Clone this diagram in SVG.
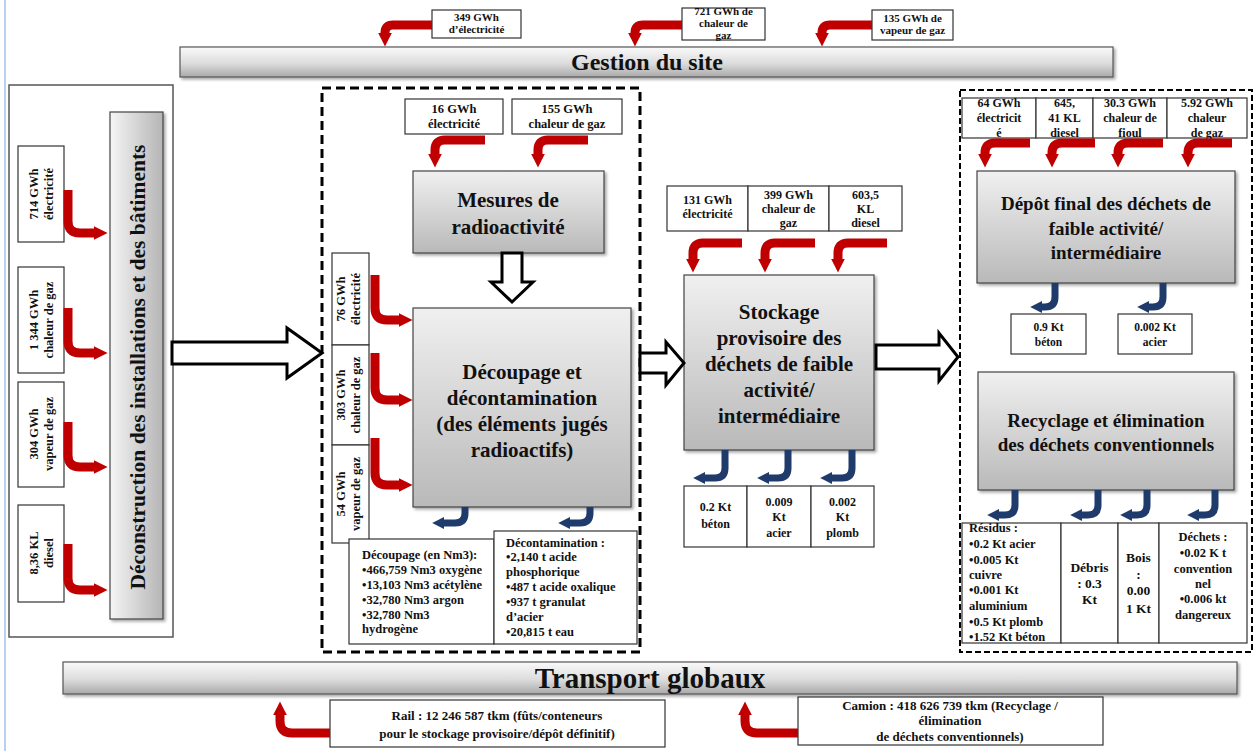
<svg xmlns="http://www.w3.org/2000/svg" width="1256" height="751" viewBox="0 0 1256 751">
<defs>
<linearGradient id="gBar" x1="0" y1="0" x2="0" y2="1"><stop offset="0" stop-color="#fafafa"/><stop offset="0.55" stop-color="#dcdcdc"/><stop offset="1" stop-color="#a9a9a9"/></linearGradient>
<linearGradient id="gNode" x1="0" y1="0" x2="0" y2="1"><stop offset="0" stop-color="#f0f0f0"/><stop offset="1" stop-color="#b9b9b9"/></linearGradient>
<linearGradient id="gVert" x1="0" y1="0" x2="1" y2="0"><stop offset="0" stop-color="#f5f5f5"/><stop offset="1" stop-color="#b5b5b5"/></linearGradient>
<filter id="sh" x="-5%" y="-5%" width="115%" height="120%"><feDropShadow dx="2" dy="2" stdDeviation="1.5" flood-color="#000" flood-opacity="0.35"/></filter>
<marker id="ahr" viewBox="0 0 10 10" refX="1" refY="5" markerWidth="14" markerHeight="19" markerUnits="userSpaceOnUse" orient="auto"><path d="M0,0L10,5L0,10z" fill="#c00000"/></marker>
<marker id="ahb" viewBox="0 0 10 10" refX="1" refY="5" markerWidth="12" markerHeight="16" markerUnits="userSpaceOnUse" orient="auto"><path d="M0,0L10,5L0,10z" fill="#1f3b6b"/></marker>
</defs>
<style>
text{font-family:"Liberation Serif","Times New Roman",serif;font-weight:bold;fill:#111;}
.bar{fill:url(#gBar);stroke:#555;stroke-width:1.2;filter:url(#sh);}
.node{fill:url(#gNode);stroke:#444;stroke-width:1.2;filter:url(#sh);}
.box{fill:#fff;stroke:#333;stroke-width:1.2;}
.ttl{font-size:21px;text-anchor:middle;}
.lbl{font-size:12px;text-anchor:middle;}
.sm{font-size:11px;text-anchor:middle;}
.rot{font-size:12.5px;text-anchor:middle;}
.lst{font-size:12.5px;}
.red{fill:none;stroke:#c00000;stroke-width:9;marker-end:url(#ahr);}
.blue{fill:none;stroke:#1f3b6b;stroke-width:7;marker-end:url(#ahb);}
.hollow{fill:#fff;stroke:#000;stroke-width:3;stroke-linejoin:miter;}
</style>
<rect width="1256" height="751" fill="#fff"/>
<line x1="5" y1="0" x2="5" y2="751" stroke="#9dc3e6" stroke-width="1.5"/>

<g id="gestion">
<rect class="bar" x="180" y="47" width="933" height="30"/>
<text x="647" y="70" style="font-size:24px" text-anchor="middle">Gestion du site</text>
</g>
<g id="in-gestion-elec"><rect class="box" x="432" y="10" width="89" height="28"/><text class="sm" x="476.5" y="21">349 GWh</text><text class="sm" x="476.5" y="33">d’électricité</text></g>
<g id="in-gestion-chaleur"><rect class="box" x="682" y="8" width="83" height="32"/><text class="sm" x="723.5" y="15">721 GWh de</text><text class="sm" x="723.5" y="27">chaleur de</text><text class="sm" x="723.5" y="39">gaz</text></g>
<g id="in-gestion-vapeur"><rect class="box" x="872" y="10" width="81" height="30"/><text class="sm" x="912.5" y="22">135 GWh de</text><text class="sm" x="912.5" y="34">vapeur de gaz</text></g>

<g id="deconstruction">
<rect x="9" y="85" width="164" height="552" fill="#fff" stroke="#555" stroke-width="1.5"/>
<rect x="110" y="112" width="53" height="507" fill="url(#gVert)" stroke="#444" stroke-width="1.2" filter="url(#sh)"/>
<text transform="translate(145,367) rotate(-90)" style="font-size:21.5px" text-anchor="middle">Déconstruction des installations et des bâtiments</text>
</g>
<g id="in-dec-elec"><rect class="box" x="18" y="146" width="46" height="96"/><text class="rot" transform="translate(41,194) rotate(-90)"><tspan x="0" y="-3">714 GWh</tspan><tspan x="0" y="12">électricité</tspan></text></g>
<g id="in-dec-chaleur"><rect class="box" x="18" y="267" width="46" height="106"/><text class="rot" transform="translate(41,320) rotate(-90)"><tspan x="0" y="-3">1 344 GWh</tspan><tspan x="0" y="12">chaleur de gaz</tspan></text></g>
<g id="in-dec-vapeur"><rect class="box" x="18" y="382" width="46" height="105"/><text class="rot" transform="translate(41,434) rotate(-90)"><tspan x="0" y="-3">304 GWh</tspan><tspan x="0" y="12">vapeur de gaz</tspan></text></g>
<g id="in-dec-diesel"><rect class="box" x="18" y="505" width="46" height="97"/><text class="rot" transform="translate(41,553) rotate(-90)"><tspan x="0" y="-3">8,36 KL</tspan><tspan x="0" y="12">diesel</tspan></text></g>

<g id="zone-decoupage">
<rect x="322" y="88" width="318" height="564" fill="none" stroke="#000" stroke-width="3" stroke-dasharray="9 5"/>
</g>
<g id="in-mes-elec"><rect class="box" x="405" y="99" width="98" height="35"/><text class="lbl" style="font-size:12.5px" x="454" y="113">16 GWh</text><text class="lbl" style="font-size:12.5px" x="454" y="128">électricité</text></g>
<g id="in-mes-chaleur"><rect class="box" x="512" y="99" width="110" height="35"/><text class="lbl" style="font-size:12.5px" x="567" y="113">155 GWh</text><text class="lbl" style="font-size:12.5px" x="567" y="128">chaleur de gaz</text></g>
<g id="mesures">
<rect class="node" x="413" y="171" width="191" height="82"/>
<text class="ttl" x="508" y="207">Mesures de</text><text class="ttl" x="508" y="234">radioactivité</text>
</g>
<g id="in-dc-elec"><rect class="box" x="332" y="253" width="37" height="92"/><text class="rot" transform="translate(350,299) rotate(-90)"><tspan x="0" y="-5">76 GWh</tspan><tspan x="0" y="10">électricité</tspan></text></g>
<g id="in-dc-chaleur"><rect class="box" x="332" y="345" width="37" height="100"/><text class="rot" transform="translate(350,395) rotate(-90)"><tspan x="0" y="-5">303 GWh</tspan><tspan x="0" y="10">chaleur de gaz</tspan></text></g>
<g id="in-dc-vapeur"><rect class="box" x="332" y="445" width="37" height="98"/><text class="rot" transform="translate(350,494) rotate(-90)"><tspan x="0" y="-5">54 GWh</tspan><tspan x="0" y="10">vapeur de gaz</tspan></text></g>
<g id="decoupage">
<rect class="node" x="413" y="308" width="218" height="199"/>
<text class="ttl" x="522" y="379">Découpage et</text>
<text class="ttl" x="522" y="405">décontamination</text>
<text class="ttl" x="522" y="431">(des éléments jugés</text>
<text class="ttl" x="522" y="457">radioactifs)</text>
</g>
<g id="out-decoupage">
<rect class="box" x="349" y="539" width="145" height="105"/>
<text class="lst"><tspan x="362" y="559">Découpage (en Nm3):</tspan><tspan x="362" y="574">•466,759 Nm3 oxygène</tspan><tspan x="362" y="589">•13,103 Nm3  acétylène</tspan><tspan x="362" y="604">•32,780 Nm3  argon</tspan><tspan x="362" y="619">•32,780 Nm3</tspan><tspan x="362" y="633">hydrogène</tspan></text>
</g>
<g id="out-decontamination">
<rect class="box" x="494" y="531" width="143" height="113"/>
<text class="lst"><tspan x="506" y="547">Décontamination :</tspan><tspan x="506" y="561">•2,140 t acide</tspan><tspan x="506" y="576">phosphorique</tspan><tspan x="506" y="591">•487 t acide oxalique</tspan><tspan x="506" y="606">•937 t  granulat</tspan><tspan x="506" y="621">d’acier</tspan><tspan x="506" y="636">•20,815 t eau</tspan></text>
</g>

<g id="in-stockage">
<rect class="box" x="667" y="186" width="81" height="45"/><rect class="box" x="748" y="186" width="81" height="45"/><rect class="box" x="829" y="186" width="73" height="45"/>
<text class="lbl" x="707.5" y="204">131 GWh</text><text class="lbl" x="707.5" y="218">électricité</text>
<text class="lbl" x="788.5" y="199">399 GWh</text><text class="lbl" x="788.5" y="213">chaleur de</text><text class="lbl" x="788.5" y="227">gaz</text>
<text class="lbl" x="865.5" y="199">603,5</text><text class="lbl" x="865.5" y="213">KL</text><text class="lbl" x="865.5" y="227">diesel</text>
</g>
<g id="stockage">
<rect class="node" x="684" y="275" width="190" height="175"/>
<text class="ttl" x="779" y="319">Stockage</text>
<text class="ttl" x="779" y="345">provisoire des</text>
<text class="ttl" x="779" y="371">déchets de faible</text>
<text class="ttl" x="779" y="397">activité/</text>
<text class="ttl" x="779" y="423">intermédiaire</text>
</g>
<g id="out-stockage">
<rect class="box" x="684" y="486" width="63" height="61"/><rect class="box" x="747" y="486" width="64" height="61"/><rect class="box" x="811" y="486" width="63" height="61"/>
<text class="lbl" x="715.5" y="511">0.2 Kt</text><text class="lbl" x="715.5" y="528">béton</text>
<text class="lbl" x="779" y="506">0.009</text><text class="lbl" x="779" y="521">Kt</text><text class="lbl" x="779" y="537">acier</text>
<text class="lbl" x="842.5" y="506">0.002</text><text class="lbl" x="842.5" y="521">Kt</text><text class="lbl" x="842.5" y="537">plomb</text>
</g>

<g id="zone-final">
<rect x="960" y="90" width="292" height="562" fill="none" stroke="#000" stroke-width="2" stroke-dasharray="6 3"/>
</g>
<g id="in-depot">
<rect class="box" x="962" y="98" width="74" height="40"/><rect class="box" x="1036" y="98" width="57" height="40"/><rect class="box" x="1093" y="98" width="74" height="40"/><rect class="box" x="1167" y="98" width="80" height="40"/>
<text class="lbl" x="999" y="107">64 GWh</text><text class="lbl" x="999" y="122">électricit</text><text class="lbl" x="999" y="137">é</text>
<text class="lbl" x="1064.5" y="107">645,</text><text class="lbl" x="1064.5" y="122">41 KL</text><text class="lbl" x="1064.5" y="137">diesel</text>
<text class="lbl" x="1130" y="107">30.3 GWh</text><text class="lbl" x="1130" y="122">chaleur de</text><text class="lbl" x="1130" y="137">fioul</text>
<text class="lbl" x="1207" y="107">5.92 GWh</text><text class="lbl" x="1207" y="122">chaleur</text><text class="lbl" x="1207" y="137">de gaz</text>
</g>
<g id="depot">
<rect class="node" x="977" y="171" width="258" height="112"/>
<text class="ttl" style="font-size:19px" x="1106" y="210">Dépôt final des déchets de</text>
<text class="ttl" style="font-size:19px" x="1106" y="235">faible activité/</text>
<text class="ttl" style="font-size:19px" x="1106" y="259">intermédiaire</text>
</g>
<g id="out-depot-beton"><rect class="box" x="1011" y="314" width="75" height="40"/><text class="sm" style="font-size:11.5px" x="1048.5" y="331">0.9 Kt</text><text class="sm" style="font-size:11.5px" x="1048.5" y="346">béton</text></g>
<g id="out-depot-acier"><rect class="box" x="1118" y="314" width="74" height="40"/><text class="sm" style="font-size:11.5px" x="1155" y="331">0.002 Kt</text><text class="sm" style="font-size:11.5px" x="1155" y="346">acier</text></g>
<g id="recyclage">
<rect class="node" x="978" y="372" width="256" height="118"/>
<text class="ttl" style="font-size:19px" x="1106" y="427">Recyclage et élimination</text>
<text class="ttl" style="font-size:19px" x="1106" y="451">des déchets conventionnels</text>
</g>
<g id="out-recyclage">
<rect class="box" x="962" y="523" width="99" height="120"/><rect class="box" x="1061" y="523" width="57" height="120"/><rect class="box" x="1118" y="523" width="41" height="120"/><rect class="box" x="1159" y="523" width="88" height="120"/>
<text style="font-size:12.5px"><tspan x="969" y="532">Résidus :</tspan><tspan x="969" y="548">•0.2 Kt acier</tspan><tspan x="969" y="564">•0.005 Kt</tspan><tspan x="969" y="579">cuivre</tspan><tspan x="969" y="594">•0.001 Kt</tspan><tspan x="969" y="610">aluminium</tspan><tspan x="969" y="626">•0.5 Kt plomb</tspan><tspan x="969" y="641">•1.52 Kt béton</tspan></text>
<text class="lbl" style="font-size:13.5px" x="1089.5" y="572">Débris</text><text class="lbl" style="font-size:13.5px" x="1089.5" y="588">: 0.3</text><text class="lbl" style="font-size:13.5px" x="1089.5" y="604">Kt</text>
<text class="lbl" style="font-size:13.5px" x="1138.5" y="562">Bois</text><text class="lbl" style="font-size:13.5px" x="1138.5" y="579">:</text><text class="lbl" style="font-size:13.5px" x="1138.5" y="595">0.00</text><text class="lbl" style="font-size:13.5px" x="1138.5" y="613">1 Kt</text>
<text class="lbl" style="font-size:12.5px"><tspan x="1203" y="541">Déchets  :</tspan><tspan x="1203" y="557">•0.02 K t</tspan><tspan x="1203" y="573">convention</tspan><tspan x="1203" y="588">nel</tspan><tspan x="1203" y="603">•0.006 kt</tspan><tspan x="1203" y="619">dangereux</tspan></text>
</g>

<g id="transport">
<rect class="bar" x="63" y="662" width="1174" height="32"/>
<text x="650" y="688" style="font-size:29px" text-anchor="middle">Transport globaux</text>
</g>
<g id="in-rail"><rect class="box" x="330" y="700" width="335" height="47"/><text class="lbl" style="font-size:13px" x="497" y="720">Rail : 12 246 587 tkm (fûts/conteneurs</text><text class="lbl" style="font-size:13px" x="497" y="738">pour le stockage provisoire/dépôt définitif)</text></g>
<g id="in-camion"><rect class="box" x="798" y="697" width="305" height="48"/><text class="lbl" style="font-size:13px" x="950" y="710">Camion : 418 626 739 tkm (Recyclage /</text><text class="lbl" style="font-size:13px" x="950" y="725">élimination</text><text class="lbl" style="font-size:13px" x="950" y="741">de déchets conventionnels)</text></g>

<g id="connectors">
<polygon class="hollow" points="172,342 287,342 287,328 322,353 287,378 287,364 172,364"/>
<polygon class="hollow" points="640,353 666,353 666,342 684,363 666,385 666,373 640,373"/>
<polygon class="hollow" points="876,345 939,345 939,333 958,357 939,381 939,369 876,369"/>
<polygon class="hollow" points="502,253 522,253 522,282 533,282 512,302 491,282 502,282"/>
<path class="red" d="M432,25 H393 Q385,25 385,33 V34"/>
<path class="red" d="M682,25 H643 Q635,25 635,33 V34"/>
<path class="red" d="M872,25 H830 Q822,25 822,33 V34"/>
<path class="red" d="M68,190 V221 Q68,233 80,233 H95"/>
<path class="red" d="M68,308 V341 Q68,353 80,353 H95"/>
<path class="red" d="M68,422 V455 Q68,467 80,467 H95"/>
<path class="red" d="M68,544 V578 Q68,590 80,590 H95"/>
<path class="red" d="M485,140 H445 Q435,140 435,150 V155"/>
<path class="red" d="M588,140 H548 Q538,140 538,150 V155"/>
<path class="red" d="M375,275 V308 Q375,320 387,320 H400"/>
<path class="red" d="M375,353 V388 Q375,400 387,400 H400"/>
<path class="red" d="M375,438 V473 Q375,485 387,485 H400"/>
<path class="red" d="M742,243 H703 Q693,243 693,253 V260"/>
<path class="red" d="M815,243 H775 Q765,243 765,253 V260"/>
<path class="red" d="M887,243 H848 Q838,243 838,253 V260"/>
<path class="red" d="M1030,143 H995 Q985,143 985,153 V155"/>
<path class="red" d="M1095,143 H1062 Q1052,143 1052,153 V155"/>
<path class="red" d="M1163,143 H1128 Q1118,143 1118,153 V155"/>
<path class="red" d="M1232,143 H1198 Q1188,143 1188,153 V155"/>
<path class="red" d="M330,733 H292 Q280,733 280,721 V714"/>
<path class="red" d="M798,733 H757 Q745,733 745,721 V714"/>
<path class="blue" d="M465,507 V513 Q465,523 455,523 H443"/>
<path class="blue" d="M590,507 V513 Q590,523 580,523 H569"/>
<path class="blue" d="M725,450 V468 Q725,478 715,478 H704"/>
<path class="blue" d="M788,450 V468 Q788,478 778,478 H768"/>
<path class="blue" d="M852,450 V468 Q852,478 842,478 H831"/>
<path class="blue" d="M1055,283 V297 Q1055,307 1045,307 H1041"/>
<path class="blue" d="M1163,283 V297 Q1163,307 1153,307 H1148"/>
<path class="blue" d="M1015,490 V505 Q1015,515 1005,515 H998"/>
<path class="blue" d="M1098,490 V505 Q1098,515 1088,515 H1081"/>
<path class="blue" d="M1147,490 V505 Q1147,515 1137,515 H1131"/>
<path class="blue" d="M1215,490 V505 Q1215,515 1205,515 H1198"/>
</g>
</svg>
